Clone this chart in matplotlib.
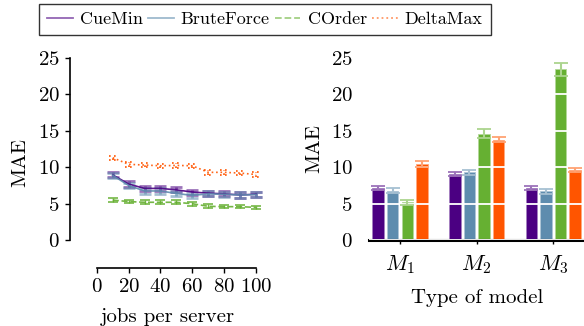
import matplotlib
matplotlib.use("Agg")
import matplotlib.pyplot as plt
import numpy as np
from matplotlib.lines import Line2D

plt.rcParams['font.family'] = ['cmr10', 'DejaVu Serif']
plt.rcParams['mathtext.fontset'] = 'cm'
plt.rcParams['axes.formatter.use_mathtext'] = True
plt.rcParams['font.size'] = 15

series = ["CueMin", "BruteForce", "COrder", "DeltaMax"]
colors = ["#4B0082", "#5E8CAE", "#66B032", "#FF5500"]
styles = ["-", "-", "--", ":"]

jobs = [10, 20, 30, 40, 50, 60, 70, 80, 90, 100]
cuemin = [8.95, 7.7, 7.1, 7.1, 6.9, 6.6, 6.45, 6.35, 6.2, 6.3]
brute = [8.9, 7.5, 6.75, 6.75, 6.4, 6.15, 6.35, 6.3, 6.2, 6.25]
corder = [5.5, 5.3, 5.2, 5.2, 5.2, 5.0, 4.65, 4.6, 4.6, 4.5]
deltamax = [11.3, 10.4, 10.3, 10.2, 10.25, 10.2, 9.3, 9.3, 9.2, 9.0]
line_err = [[0.35] * 10, [0.35] * 10, [0.25] * 10, [0.3] * 10]

models = ["$M_1$", "$M_2$", "$M_3$"]
bar_cuemin = [7.2, 9.1, 7.2]
bar_brute = [6.8, 9.3, 6.7]
bar_corder = [5.2, 14.6, 23.4]
bar_deltamax = [10.45, 13.8, 9.6]
bar_err = [[0.3, 0.25, 0.3], [0.3, 0.3, 0.3], [0.35, 0.6, 0.9], [0.35, 0.3, 0.3]]

def lighten(c, f):
    rgb = np.array(matplotlib.colors.to_rgb(c))
    return tuple(rgb + (1 - rgb) * f)

fig = plt.figure(figsize=(5.84, 3.26), dpi=100)

# Left panel
ax1 = fig.add_axes([70 / 584, 58 / 326, 195 / 584, 210.3 / 326])
ax1.set_xlim(-16.8, 105.6)
ax1.set_ylim(-3.8, 25)
lines_data = [cuemin, brute, corder, deltamax]
for i, ys in enumerate(lines_data):
    c = colors[i]
    ax1.plot(jobs, ys, color=c, linestyle=styles[i], lw=1.2, alpha=0.9, zorder=3)
    if styles[i] == ':':
        lo = np.array(ys) - np.array(line_err[i])
        hi = np.array(ys) + np.array(line_err[i])
        ax1.vlines(jobs, lo, hi, colors=c, linestyles=':', lw=1.2, zorder=2)
        for yy in (lo, hi):
            ax1.hlines(yy, np.array(jobs) - 2.5, np.array(jobs) + 2.5, colors=c,
                       linestyles=(0, (1, 2)), lw=1.2, zorder=2)
    elif styles[i] == '--':
        ax1.errorbar(jobs, ys, yerr=line_err[i], fmt='none', ecolor=c,
                     elinewidth=1.0, capsize=3.5, capthick=1.2, alpha=0.9, zorder=2)
    else:
        ax1.errorbar(jobs, ys, yerr=line_err[i], fmt='none', ecolor=c,
                     elinewidth=2.0, capsize=4.5, capthick=2.0, alpha=0.55, zorder=2)
for s in ['top', 'right']:
    ax1.spines[s].set_visible(False)
ax1.spines['left'].set_bounds(0, 25)
ax1.spines['bottom'].set_bounds(0, 100)
ax1.spines['left'].set_linewidth(1.2)
ax1.spines['bottom'].set_linewidth(1.2)
ax1.set_xticks([0, 20, 40, 60, 80, 100])
ax1.set_yticks([0, 5, 10, 15, 20, 25])
ax1.tick_params(length=3.5, width=1.0, pad=4, labelsize=15)
ax1.set_xlabel("jobs per server", fontsize=15, labelpad=8)
ax1.set_ylabel("MAE", fontsize=15, labelpad=6)

# Right panel
ax2 = fig.add_axes([369.3 / 584, 85.7 / 326, (584 - 369.3) / 584, 182.6 / 326])
ax2.set_xlim(-0.4, 2.4)
ax2.set_ylim(0, 25)
bars = [bar_cuemin, bar_brute, bar_corder, bar_deltamax]
x = np.arange(len(models))
step = 0.19
w = 0.15
for i, vals in enumerate(bars):
    xs = x + (i - 1.5) * step
    ax2.bar(xs, vals, width=w, color=colors[i], edgecolor=lighten(colors[i], 0.5),
            linewidth=0.6, zorder=1)
    ax2.errorbar(xs, vals, yerr=bar_err[i], fmt='none', ecolor=lighten(colors[i], 0.45),
                 elinewidth=1.5, capsize=5, capthick=1.3, zorder=3)
ax2.set_axisbelow(False)
ax2.set_yticks([0, 5, 10, 15, 20, 25])
ax2.grid(axis='y', color='white', lw=1.3, zorder=2)
for s in ['top', 'right', 'left']:
    ax2.spines[s].set_visible(False)
ax2.spines['bottom'].set_linewidth(2.2)
ax2.set_xticks(x)
ax2.set_xticklabels(models, fontsize=16)
ax2.tick_params(axis='y', length=0, pad=12, labelsize=15)
ax2.tick_params(axis='x', length=3, width=1.0, pad=6)
ax2.set_xlabel("Type of model", fontsize=15, labelpad=10)
ax2.set_ylabel("MAE", fontsize=15, labelpad=5)

handles = [Line2D([0], [0], color=colors[i], linestyle=styles[i], lw=1.3, alpha=0.6)
           for i in range(4)]
leg = fig.legend(handles, series, loc='center', bbox_to_anchor=(265 / 584, 1 - 19.5 / 326),
                 ncol=4, frameon=True, fancybox=False, edgecolor='black', fontsize=13,
                 handlelength=1.4, handletextpad=0.4, columnspacing=0.3,
                 borderpad=0.45)
leg.get_frame().set_linewidth(1.0)

fig.savefig("out.png", dpi=100)
